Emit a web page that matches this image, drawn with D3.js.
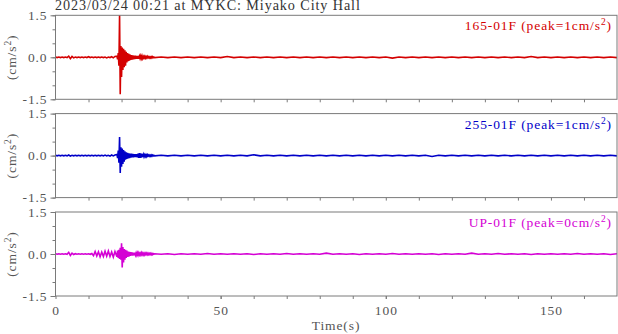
<!DOCTYPE html>
<html><head><meta charset="utf-8">
<script src="https://cdn.jsdelivr.net/npm/d3@7"></script>
<style>body{margin:0;background:#fff}svg{display:block}text{font-family:"Liberation Serif","DejaVu Serif",serif;letter-spacing:0.9px}</style>
</head><body><svg id="c" width="618" height="334"></svg>
<script>
// ---- data (accelerations in 1/100 cm/s^2) ----
const title = "2023/03/24 00:21 at MYKC: Miyako City Hall";
const channels = ["165-01F", "255-01F", "UP-01F"];
const peaks = [1, 1, 0];
const colors = ["#d40000", "#0000c8", "#d400d4"];
const xTicks = [0, 50, 100, 150];
const yTicks = [-1.5, 0, 1.5];
// sample times (s) of the three trace segments
const tPre = d3.range(0, 18.01, 0.5);
const tAct = d3.range(18.6, 29.81, 0.2);
const tPost = d3.range(30, 170.01, 2);

const pre165 = [1,-1,1,-1,1,-1,1,-1, 4,-5,3,-2,1,-1,1,-1, 1,-1,1,-1,2,-1,1,-1, 1,-1,1,-1,1,-1,1,-2, 1,-1,2,-2,3];
const act165 = [4,-7,15,-30,155,-132,40,-70,35,-45, 30,-35,25,-30,20,-18,15,-14,12,-12,
  10,-9,8,-8,7,-7,6,-6,6,-5, 5,-5,5,-5,4,-4,5,-4,5,-4, 3,-3,3,-3,3,-2,3,-2,2,-2, 2,-2,2,-2,2,-1,1];
const post165 = [-1,1,-1,1,-1,1,-1,1,-1,1, -1,3,-1,1,-1,1,-1,1,-1,1, -1,1,-1,1,-1,1,-1,1,-1,1,
  -1,1,-1,1,-1,1,-3,1,-1,1, -1,1,-1,1,-1,1,-1,1,-1,1, -1,1,-1,1,-1,1,-1,3,-1,1, -1,1,-1,1,-1,1,-1,1,-1,1, -1];

const pre255 = [1,-1,1,-1,1,-1,1,-1, 2,-2,1,-1,1,-1,1,-1, 1,-1,1,-1,1,-1,1,-1, 1,-1,1,-1,1,-1,2,-1, 1,-2,2,-1,2];
const act255 = [4,-9,18,-25,66,-62,30,-40,25,-30, 20,-22,15,-15,12,-12,10,-10,8,-9,
  7,-7,7,-6,6,-6,5,-5,5,-5, 5,-6,7,-8,9,-8,8,-7,6,-5, 4,-4,3,-3,3,-3,3,-2,2,-2, 2,-2,2,-2,2,-1,1];
const post255 = [-1,1,-1,1,-1,1,-1,1,-1,1, -1,1,-1,1,-1,3,-1,1,-1,1, -1,1,-1,1,-1,1,-1,1,-1,1,
  -1,1,-1,1,-1,1,-1,1,-1,1, -1,1,-3,1,-1,1,-1,1,-1,1, -1,1,-1,1,-1,1,-1,1,-1,1, -1,1,-1,1,-1,1,-1,1,-1,1, -1];

const preUP = [1,-1,1,-1,1,-1,1,-1, 6,-5,3,-2,1,-1,1,-1, 1,-1,1,-1,1,-1,2,
  -6,9,-7,8,-10,7,-9,10,-8,11,-9,7,-11,9];
const actUP = [-10,12,-14,15,-18,22,-20,38,-48,25, -30,18,-20,15,-14,12,-10,9,-9,8,
  -7,7,-6,6,-6,5,-5,5,-4,4, -4,4,-4,4,-3,3,-3,4,-3,3, -3,3,-3,3,-2,3,-2,3,-2,2, -2,2,-2,2,-2,1,-1];
const postUP = [1,-1,1,-2,1,-1,1,-1,2,-1, 1,-1,1,-1,1,-2,1,-1,1,-1, 2,-1,1,-1,1,-1,3,-1,1,-1,
  1,-2,1,-1,1,-1,2,-1,1,-1, 1,-1,1,-2,1,-1,1,-1,3,-1, 1,-1,2,-1,1,-1,1,-2,1,-1, 1,-1,1,-1,2,-1,1,-1,1,-2, 1];

const pres = [pre165, pre255, preUP], acts = [act165, act255, actUP], posts = [post165, post255, postUP];

// ---- drawing ----
const svg = d3.select("#c");
const L = 55.5, R = 617, H = 84, tops = [15.3, 113.6, 212];
const x = d3.scaleLinear().domain([0, 170]).range([L, R]);
const gray = "#7a7a7a", tcol = "#555", FS = 13.5;

svg.append("text").attr("x", 55).attr("y", 10).attr("font-size", 14.2).attr("letter-spacing", "1.1px")
  .attr("fill", "#333").text(title);

channels.forEach((name, i) => {
  const top = tops[i];
  const y = d3.scaleLinear().domain([-1.5, 1.5]).range([top + H, top]);
  const g = svg.append("g");
  const cid = "clip" + i;
  svg.append("clipPath").attr("id", cid).append("rect")
    .attr("x", L).attr("y", top).attr("width", R - L).attr("height", H);
  const pts = [];
  tPre.forEach((t, k) => pts.push([t, pres[i][k] / 100]));
  tAct.forEach((t, k) => pts.push([t, acts[i][k] / 100]));
  tPost.forEach((t, k) => pts.push([t, posts[i][k] / 100]));
  const line = d3.line().x(d => x(d[0])).y(d => y(d[1]));
  g.append("path").datum(pts).attr("d", line).attr("fill", "none")
    .attr("stroke", colors[i]).attr("stroke-width", 1.6).attr("clip-path", `url(#${cid})`);

  // frame
  g.append("rect").attr("x", L).attr("y", top).attr("width", R - L).attr("height", H)
    .attr("fill", "none").attr("stroke", gray).attr("stroke-width", 1);

  // left axis
  const ya = d3.axisLeft(y).tickValues(d3.range(-1.5, 1.51, 0.5)).tickSize(3).tickFormat("");
  const yag = g.append("g").attr("transform", `translate(${L},0)`).call(ya);
  yag.select(".domain").remove();
  yag.selectAll("line").attr("stroke", gray);
  const ym = d3.axisLeft(y).tickValues(yTicks).tickSize(5).tickPadding(3);
  const ymg = g.append("g").attr("transform", `translate(${L},0)`).call(ym);
  ymg.select(".domain").remove();
  ymg.selectAll("line").attr("stroke", gray);
  ymg.selectAll("text").attr("font-size", FS).attr("fill", tcol)
    .attr("font-family", '"Liberation Serif",serif').text(d => d.toFixed(1));

  // bottom axis
  const xa = d3.axisBottom(x).tickValues(d3.range(10, 170, 10)).tickSize(3).tickFormat("");
  const xag = g.append("g").attr("transform", `translate(0,${top + H})`).call(xa);
  xag.select(".domain").remove();
  xag.selectAll("line").attr("stroke", gray);
  if (i === 2) {
    const xm = d3.axisBottom(x).tickValues(xTicks).tickSize(3).tickPadding(6);
    const xmg = g.append("g").attr("transform", `translate(0,${top + H})`).call(xm);
    xmg.select(".domain").remove();
    xmg.selectAll("line").attr("stroke", gray);
    xmg.selectAll("text").attr("font-size", FS).attr("fill", tcol).attr("font-family", '"Liberation Serif",serif');
  }

  // y label
  const yl = g.append("text").attr("transform", `translate(16,${top + H / 2}) rotate(-90)`)
    .attr("text-anchor", "middle").attr("font-size", FS).attr("fill", tcol);
  yl.append("tspan").text("(cm/s");
  yl.append("tspan").attr("dy", -5).attr("font-size", 9.5).text("2");
  yl.append("tspan").attr("dy", 5).text(")");

  // channel label
  const lab = g.append("text").attr("x", 612).attr("y", top + 15).attr("text-anchor", "end")
    .attr("font-size", FS).attr("fill", colors[i]);
  lab.append("tspan").text(`${name} (peak=${peaks[i]}cm/s`);
  lab.append("tspan").attr("dy", -5).attr("font-size", 9.5).text("2");
  lab.append("tspan").attr("dy", 5).text(")");
});

svg.append("text").attr("x", 336).attr("y", 330).attr("text-anchor", "middle")
  .attr("font-size", FS).attr("fill", tcol).text("Time(s)");
</script></body></html>
